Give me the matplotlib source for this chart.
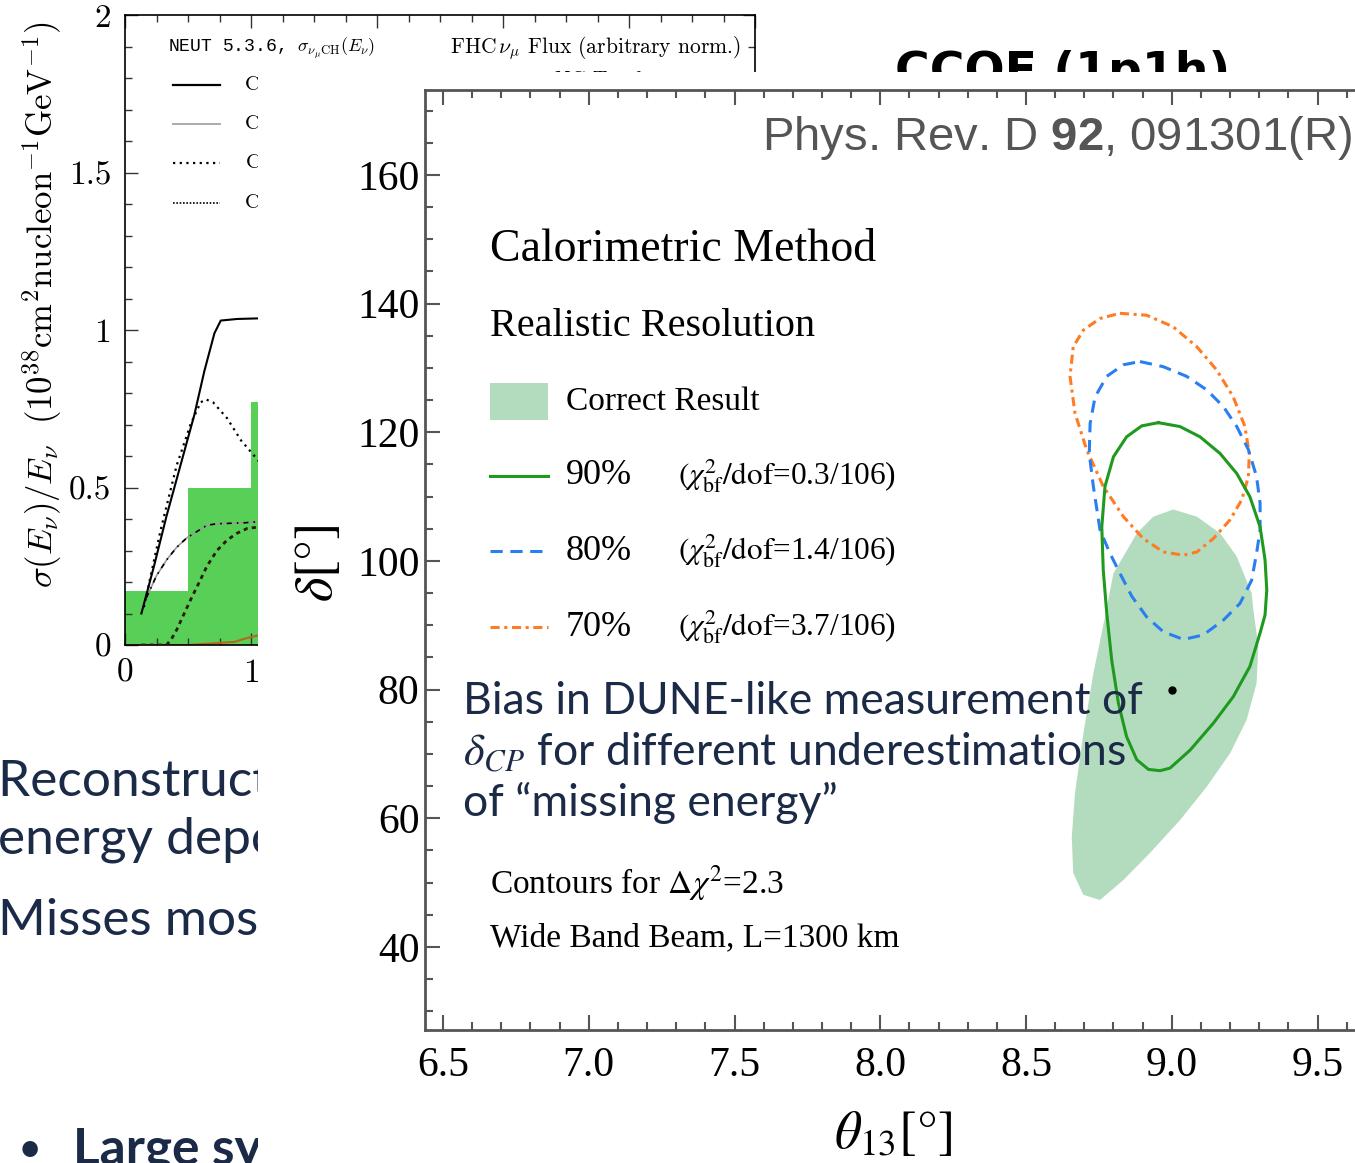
import numpy as np
import matplotlib.pyplot as plt
from matplotlib.patches import Rectangle
from matplotlib.lines import Line2D
from matplotlib.ticker import MultipleLocator

plt.rcParams['font.family'] = 'Liberation Serif'
plt.rcParams['mathtext.fontset'] = 'stix'
plt.rcParams['mathtext.rm'] = 'Liberation Sans'
plt.rcParams['mathtext.bf'] = 'Liberation Sans:bold'

# --- NEUT cross sections and FHC flux (left panel) ---
flux_edges = [0.0, 0.5, 1.0, 1.5]
flux_vals = [0.17, 0.50, 0.77]

e_total = [0.13, 0.23, 0.33, 0.44, 0.55, 0.63, 0.71, 0.76, 0.89, 1.07]
xs_total = [0.10, 0.25, 0.41, 0.57, 0.73, 0.87, 0.99, 1.03, 1.035, 1.037]

e_qe = [0.15, 0.28, 0.41, 0.52, 0.60, 0.64, 0.70, 0.81, 0.92, 1.07]
xs_qe = [0.12, 0.36, 0.57, 0.70, 0.77, 0.78, 0.77, 0.72, 0.65, 0.58]

e_res = [0.17, 0.25, 0.33, 0.41, 0.49, 0.57, 0.65, 0.73, 0.81, 0.95, 1.07]
xs_res = [0.15, 0.22, 0.27, 0.31, 0.34, 0.36, 0.38, 0.385, 0.386, 0.388, 0.392]

e_oth = [0.13, 0.33, 0.37, 0.41, 0.47, 0.52, 0.59, 0.65, 0.73, 0.81, 0.89, 0.97, 1.07]
xs_oth = [0.0, 0.0, 0.02, 0.048, 0.10, 0.143, 0.20, 0.25, 0.30, 0.333, 0.355, 0.37, 0.375]

e_nc = [0.0, 0.5, 0.87, 0.95, 1.07]
xs_nc = [0.0, 0.0, 0.01, 0.02, 0.032]

# --- delta_CP vs theta_13 contours (right panel) ---
correct_theta = [9.005, 9.086, 9.166, 9.223, 9.274, 9.280, 9.297, 9.291, 9.257, 9.200,
                 9.120, 9.028, 8.925, 8.834, 8.754, 8.697, 8.662, 8.657, 8.668, 8.697,
                 8.731, 8.771, 8.800, 8.834, 8.880, 8.937]
correct_delta = [108.0, 106.9, 104.3, 100.7, 95.0, 92.4, 86.7, 81.0, 75.3, 70.1,
                 64.9, 59.7, 54.6, 50.4, 47.3, 48.1, 51.5, 57.1, 63.9, 73.2,
                 82.5, 91.3, 98.1, 100.7, 104.3, 106.9]

c90_theta = [8.954, 9.028, 9.097, 9.166, 9.223, 9.268, 9.303, 9.320, 9.326, 9.320,
             9.303, 9.268, 9.211, 9.143, 9.063, 8.994, 8.960, 8.920, 8.880, 8.845,
             8.817, 8.794, 8.777, 8.765, 8.760, 8.771, 8.800, 8.845, 8.897, 8.954]
c90_delta = [121.5, 120.9, 119.3, 116.7, 113.6, 110.0, 105.3, 100.2, 95.5, 91.6,
             88.8, 83.6, 78.9, 74.8, 70.6, 67.8, 67.4, 67.6, 69.1, 72.7,
             77.9, 84.6, 91.9, 98.6, 105.3, 111.6, 116.2, 119.3, 121.0, 121.5]

c80_theta = [8.891, 8.971, 9.051, 9.120, 9.177, 9.223, 9.263, 9.291, 9.303, 9.303,
             9.291, 9.274, 9.234, 9.177, 9.108, 9.040, 8.971, 8.914, 8.863, 8.822,
             8.788, 8.754, 8.731, 8.717, 8.720, 8.737, 8.777, 8.834, 8.891]
c80_delta = [131.0, 130.2, 128.7, 126.6, 124.0, 120.9, 117.3, 113.1, 109.0, 104.8,
             101.2, 97.0, 93.4, 90.8, 88.5, 87.8, 89.0, 91.3, 94.5, 98.1,
             101.2, 104.8, 111.6, 116.7, 121.4, 125.5, 128.7, 130.5, 131.0]

c70_theta = [8.822, 8.914, 9.005, 9.086, 9.154, 9.211, 9.251, 9.266, 9.263, 9.240,
             9.200, 9.143, 9.086, 9.040, 8.971, 8.902, 8.834, 8.765, 8.708, 8.668,
             8.651, 8.662, 8.697, 8.754, 8.822]
c70_delta = [138.5, 138.2, 136.4, 133.3, 129.7, 125.5, 120.9, 116.7, 113.1, 109.5,
             106.4, 103.5, 101.4, 100.9, 101.4, 103.5, 106.9, 111.6, 117.3, 123.0,
             128.7, 133.3, 135.9, 137.7, 138.5]

best_fit = (9.0, 80.0)

theta_ticks = [6.5, 7.0, 7.5, 8.0, 8.5, 9.0, 9.5]
delta_ticks = [40, 60, 80, 100, 120, 140, 160]

W, H = 1355, 1163
fig = plt.figure(figsize=(W / 100, H / 100), dpi=100)


def fx(px):
    return px / W


def fy(py):
    return 1 - py / H


navy = '#1b2a47'
slide_font = 'Lato'

# ---------------- left panel ----------------
axl = fig.add_axes([fx(125), fy(645), fx(755) - fx(125), fy(15) - fy(645)])
axl.bar(flux_edges[:-1], flux_vals, width=np.diff(flux_edges), align='edge',
        color='#58d058', linewidth=0, zorder=1)
axl.plot(e_nc, xs_nc, color='#b8651d', lw=1.5, zorder=2)
axl.plot(e_oth, xs_oth, color='#2a1a08', lw=2.0, ls=(0, (1.5, 1.5)), zorder=3)
axl.plot(e_res, xs_res, color='#999999', lw=1.2, zorder=3)
axl.plot(e_res, xs_res, color='black', lw=1.2, ls=(0, (3, 3, 1, 3)), zorder=3)
axl.plot(e_qe, xs_qe, color='black', lw=1.6, ls=(0, (1, 2)), zorder=4)
axl.plot(e_total, xs_total, color='black', lw=1.5, zorder=5)
axl.set_xlim(0, 5)
axl.set_ylim(0, 2)
axl.set_yticks([0, 0.5, 1, 1.5, 2])
axl.set_yticklabels(['0', '0.5', '1', '1.5', '2'], fontfamily='cmr10', fontsize=24)
axl.set_xticks([0, 1, 2, 3, 4, 5])
axl.set_xticklabels(['0', '1', '2', '3', '4', '5'], fontfamily='cmr10', fontsize=24)
axl.yaxis.set_minor_locator(MultipleLocator(0.1))
axl.xaxis.set_minor_locator(MultipleLocator(0.25))
axl.tick_params(which='both', direction='in', top=True, right=True, width=1, color='#333333')
axl.tick_params(which='major', length=9, pad=10)
axl.tick_params(which='minor', length=5)
for sp in axl.spines.values():
    sp.set_linewidth(1.2)

fig.text(fx(42), fy(305),
         r'$\sigma(E_\nu)/E_\nu\ \ (10^{38}\mathrm{cm}^2\mathrm{nucleon}^{-1}\mathrm{GeV}^{-1})$',
         rotation=90, ha='center', va='center', fontsize=25, math_fontfamily='cm')
fig.text(fx(168), fy(48), r'NEUT 5.3.6, $\sigma_{\nu_\mu\mathrm{CH}}(E_\nu)$',
         family='Liberation Mono', fontsize=13, va='center', math_fontfamily='cm')
fig.text(fx(450), fy(48), r'FHC$\,\nu_\mu$ Flux (arbitrary norm.)',
         family='cmr10', fontsize=15.5, va='center', math_fontfamily='cm')

legend_rows = [('black', '-', 1.6, 85, 'CC Total'),
               ('#aaaaaa', '-', 1.4, 124, 'CC 1p1h'),
               ('black', (0, (1, 2)), 1.6, 163, 'CC 1$\\pi$'),
               ('black', (0, (1, 1)), 1.2, 203, 'CC Other')]
for col, ls, lw, py, lab in legend_rows:
    fig.add_artist(Line2D([fx(173), fx(220)], [fy(py), fy(py)], transform=fig.transFigure,
                          color=col, ls=ls, lw=lw))
    fig.text(fx(245), fy(py), lab, family='cmr10', fontsize=15, va='center',
             math_fontfamily='cm')
fig.text(fx(555), fy(80), 'NC Total', family='cmr10', fontsize=15, va='center')

# slide heading and bullet text behind the inset
fig.text(fx(895), fy(50), 'CCQE (1p1h)', family='DejaVu Sans', fontweight='bold',
         fontsize=34, va='top', color='black')
fig.text(fx(-2), fy(782), 'Reconstruction of neutrino', family=slide_font,
         fontsize=37, va='center', color=navy)
fig.text(fx(-2), fy(840), 'energy deposited', family=slide_font,
         fontsize=37, va='center', color=navy)
fig.text(fx(-2), fy(921), 'Misses most neutrons', family=slide_font,
         fontsize=37, va='center', color=navy)
fig.text(fx(18), fy(1150), u'\u2022', family=slide_font, fontsize=30, va='center', color=navy)
fig.text(fx(73), fy(1150), 'Large systematics', family=slide_font, fontweight='bold',
         fontsize=37, va='center', color=navy)

# white inset background
fig.add_artist(Rectangle((fx(258), 0), 1 - fx(258), fy(72), transform=fig.transFigure,
                         facecolor='white', edgecolor='none', zorder=5))

# ---------------- right panel ----------------
ax = fig.add_axes([fx(425), fy(1030), 1 - fx(425), fy(90) - fy(1030)])
ax.set_zorder(6)
ax.fill(correct_theta, correct_delta, color='#b3dcbf', lw=0, zorder=1)
ax.plot(c70_theta, c70_delta, color='#ff7b24', lw=2.2, ls=(0, (3, 1.5, 1, 1.5)),
        solid_joinstyle='round', zorder=2)
ax.plot(c80_theta, c80_delta, color='#2a7ff0', lw=2.2, ls=(0, (4, 2.5)),
        solid_joinstyle='round', zorder=3)
ax.plot(c90_theta, c90_delta, color='#1f9a1f', lw=2.2, solid_joinstyle='round', zorder=4)
ax.plot([best_fit[0]], [best_fit[1]], 'o', color='black', ms=5, zorder=5)

ax.set_xlim(6.5 - 18 / 291.5, 6.5 + 912 / 291.5)
ax.set_ylim(160 - 855 / 6.433, 160 + 85 / 6.433)
ax.set_xticks(theta_ticks)
ax.set_xticklabels(['%.1f' % t for t in theta_ticks])
ax.set_yticks(delta_ticks)
ax.xaxis.set_minor_locator(MultipleLocator(0.1))
ax.yaxis.set_minor_locator(MultipleLocator(5))
ax.tick_params(which='both', direction='in', top=True, right=False, width=1.5,
               color='#555555', labelsize=30)
ax.tick_params(which='major', length=11)
ax.tick_params(which='minor', length=6)
ax.tick_params(axis='x', pad=12)
ax.tick_params(axis='y', pad=4)
ax.spines['right'].set_visible(False)
for s in ['left', 'bottom', 'top']:
    ax.spines[s].set_linewidth(2)
    ax.spines[s].set_color('#555555')

fig.text(fx(318), fy(563), r'$\delta[°]$', rotation=90, ha='center', va='center',
         fontsize=38, zorder=7)
fig.text(fx(893), fy(1135), r'$\theta_{13}[°]$', ha='center', va='center',
         fontsize=38, zorder=7)

fig.text(fx(1352), fy(138), r'Phys. Rev. D $\mathbf{92}$, 091301(R)', ha='right',
         va='center', family='Liberation Sans', fontsize=34, color='#555555',
         math_fontfamily='custom', zorder=7)

fig.text(fx(490), fy(250), 'Calorimetric Method', fontsize=33, va='center', zorder=7)
fig.text(fx(490), fy(326), 'Realistic Resolution', fontsize=29, va='center', zorder=7)
fig.add_artist(Rectangle((fx(490), fy(420)), fx(548) - fx(490), fy(383) - fy(420),
                         transform=fig.transFigure, facecolor='#b3dcbf', edgecolor='none',
                         zorder=7))
fig.text(fx(566), fy(402), 'Correct Result', fontsize=24, va='center', zorder=7)

key_rows = [('#1f9a1f', '-', 476, '90%', '0.3'),
            ('#2a7ff0', (0, (4, 2.5)), 551, '80%', '1.4'),
            ('#ff7b24', (0, (3, 1.5, 1, 1.5)), 627, '70%', '3.7')]
for col, ls, py, cl, chi in key_rows:
    fig.add_artist(Line2D([fx(490), fx(548)], [fy(py), fy(py)], transform=fig.transFigure,
                          color=col, ls=ls, lw=2.2, zorder=7))
    fig.text(fx(566), fy(py), cl, fontsize=26, va='center', zorder=7)
    fig.text(fx(678), fy(py), r'$(\chi^2_{\rm bf}/{\rm dof}$=' + chi + '/106)',
             fontsize=22.5, va='center', zorder=7)

fig.text(fx(490), fy(883), r'Contours for $\Delta\chi^2$=2.3', fontsize=24, va='center',
         zorder=7)
fig.text(fx(490), fy(938), 'Wide Band Beam, L=1300 km', fontsize=24, va='center', zorder=7)

fig.text(fx(463), fy(702), 'Bias in DUNE-like measurement of', family=slide_font,
         fontsize=32, va='center', color=navy, zorder=8)
fig.text(fx(463), fy(752), r'$\delta_{CP}$ for different underestimations', family=slide_font,
         fontsize=32, va='center', color=navy, zorder=8)
fig.text(fx(463), fy(803), u'of \u201cmissing energy\u201d', family=slide_font,
         fontsize=32, va='center', color=navy, zorder=8)

fig.savefig('out.png', dpi=100)
